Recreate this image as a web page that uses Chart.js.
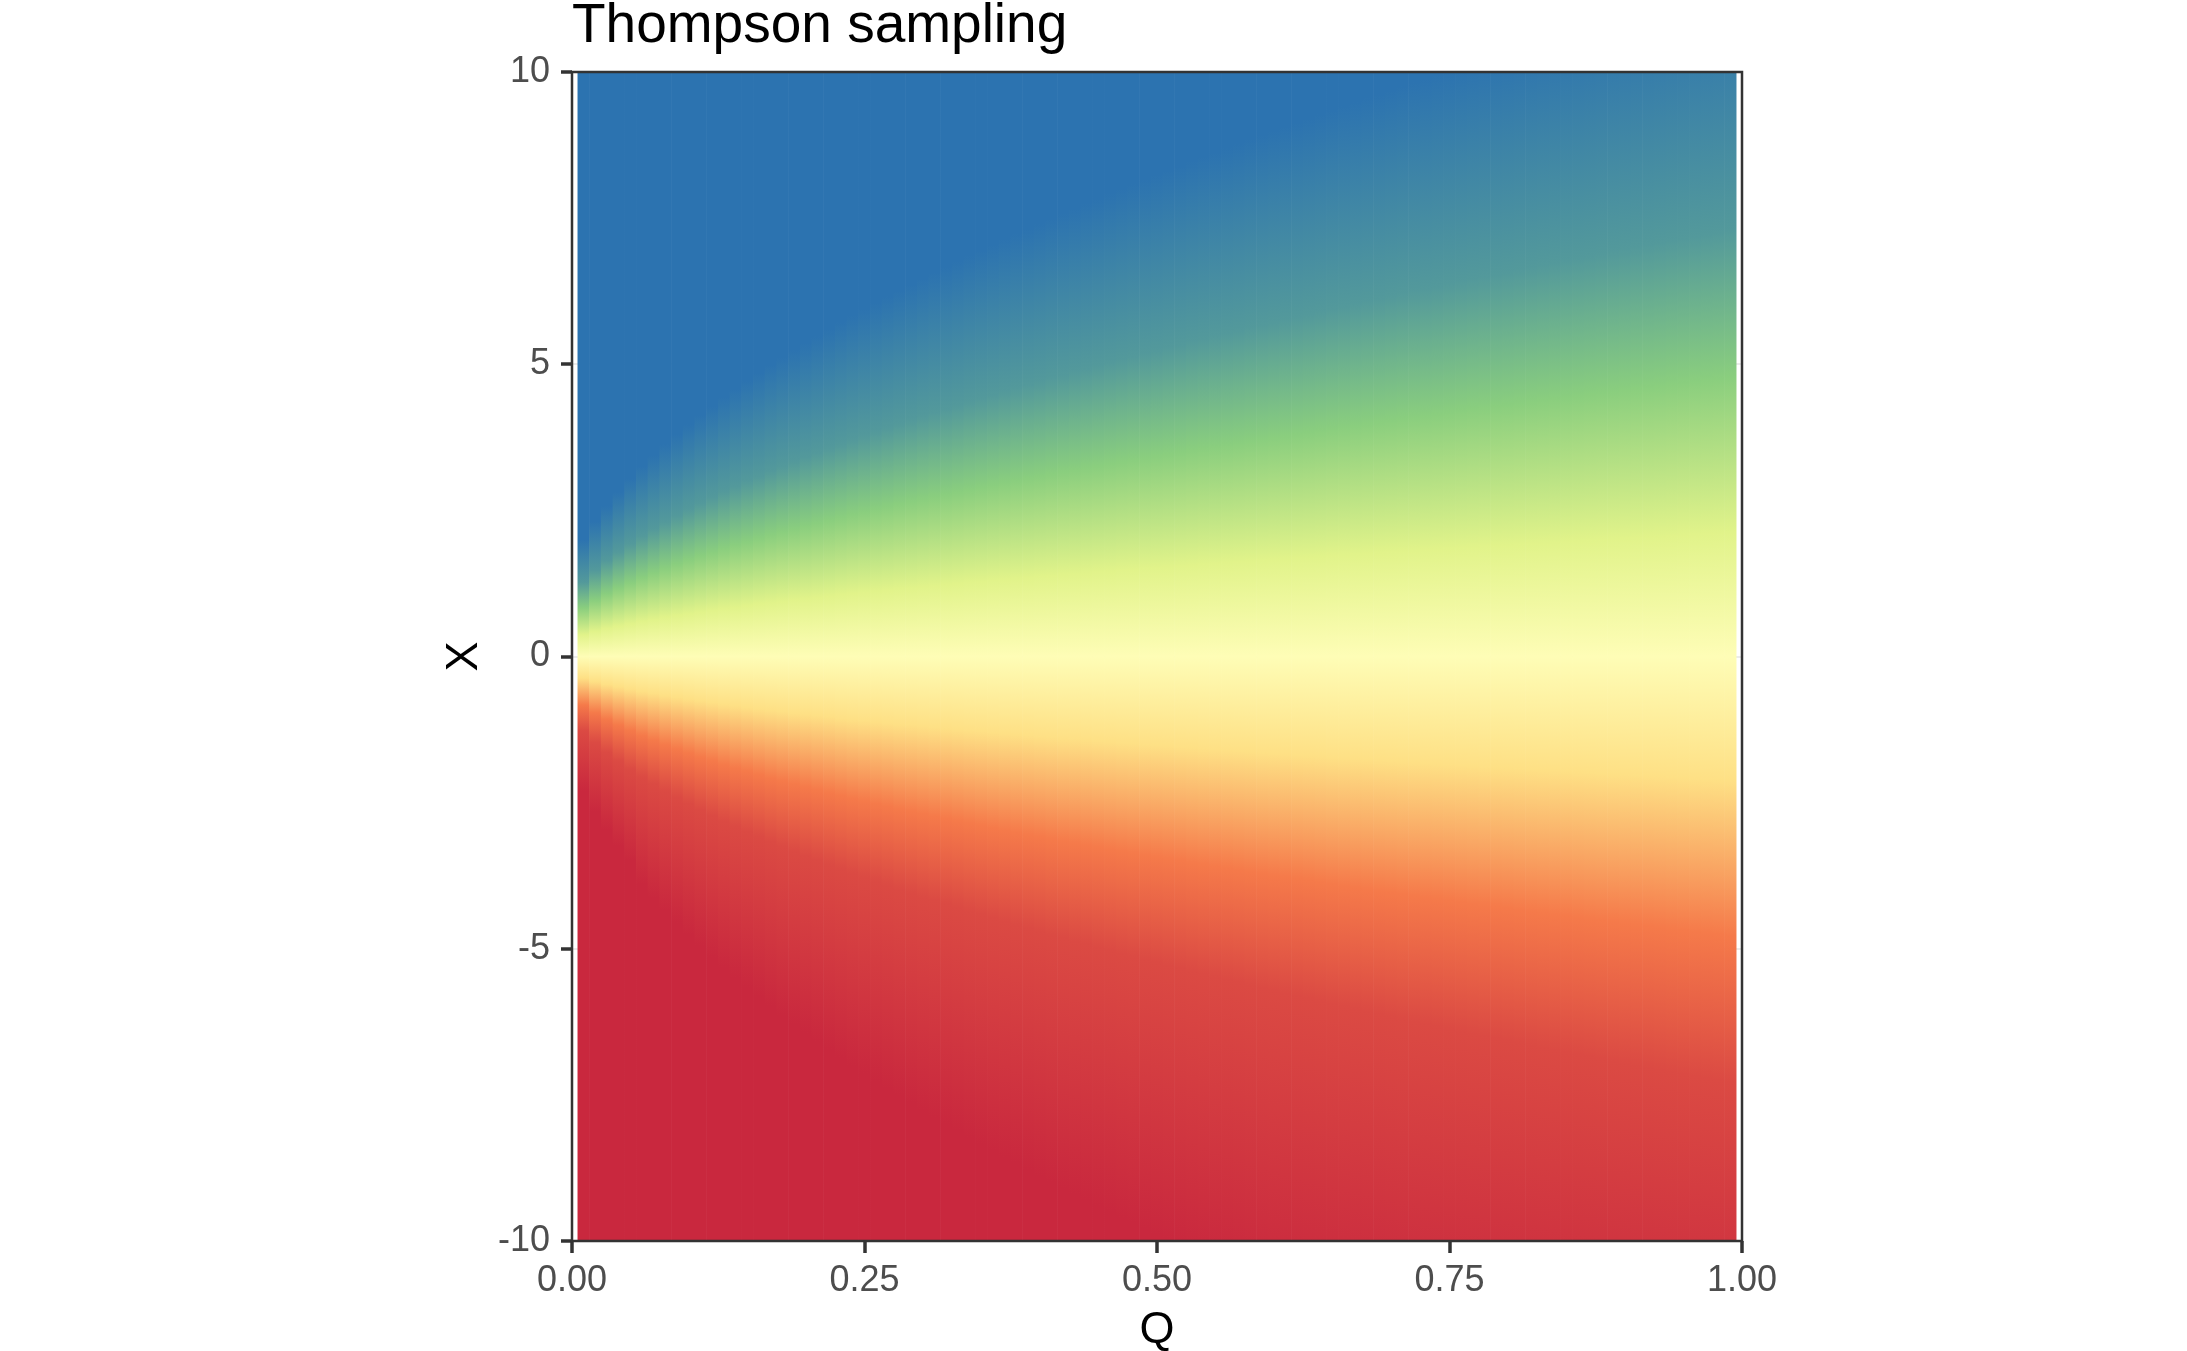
<!DOCTYPE html>
<html>
<head>
<meta charset="utf-8">
<title>Thompson sampling</title>
<script src="https://cdn.jsdelivr.net/npm/chart.js@4.4.1/dist/chart.umd.min.js"></script>
<style>
  html, body { margin: 0; padding: 0; background: #fff; }
  #wrap { width: 2187px; height: 1351px; }
</style>
</head>
<body>
<div id="wrap"><canvas id="myChart" width="2187" height="1351"></canvas></div>
<script>
// raster columns (Q at cell centre, cells are 0.01 wide)
const qCols = [
  0.01, 0.02, 0.03, 0.04, 0.05, 0.06, 0.07, 0.08, 0.09, 0.10,
  0.11, 0.12, 0.13, 0.14, 0.15, 0.16, 0.17, 0.18, 0.19, 0.20,
  0.21, 0.22, 0.23, 0.24, 0.25, 0.26, 0.27, 0.28, 0.29, 0.30,
  0.31, 0.32, 0.33, 0.34, 0.35, 0.36, 0.37, 0.38, 0.39, 0.40,
  0.41, 0.42, 0.43, 0.44, 0.45, 0.46, 0.47, 0.48, 0.49, 0.50,
  0.51, 0.52, 0.53, 0.54, 0.55, 0.56, 0.57, 0.58, 0.59, 0.60,
  0.61, 0.62, 0.63, 0.64, 0.65, 0.66, 0.67, 0.68, 0.69, 0.70,
  0.71, 0.72, 0.73, 0.74, 0.75, 0.76, 0.77, 0.78, 0.79, 0.80,
  0.81, 0.82, 0.83, 0.84, 0.85, 0.86, 0.87, 0.88, 0.89, 0.90,
  0.91, 0.92, 0.93, 0.94, 0.95, 0.96, 0.97, 0.98, 0.99
];

// distance in X from the pale centre line (X = 0) to each colour band,
// read off the picture per column
// where the colour becomes full blue (above) and full red (below)
const bandFullUp = [
  2.00, 2.31, 2.57, 2.81, 3.04, 3.25, 3.44, 3.63, 3.80, 3.97,
  4.13, 4.28, 4.43, 4.58, 4.72, 4.85, 4.99, 5.11, 5.24, 5.36,
  5.48, 5.60, 5.72, 5.83, 5.94, 6.05, 6.16, 6.26, 6.36, 6.47,
  6.57, 6.66, 6.76, 6.86, 6.95, 7.04, 7.14, 7.23, 7.32, 7.40,
  7.49, 7.58, 7.66, 7.75, 7.83, 7.92, 8.00, 8.08, 8.16, 8.24,
  8.32, 8.39, 8.47, 8.55, 8.62, 8.70, 8.77, 8.85, 8.92, 8.99,
  9.07, 9.14, 9.21, 9.28, 9.35, 9.42, 9.49, 9.56, 9.62, 9.69,
  9.76, 9.83, 9.89, 9.96, 10.02, 10.09, 10.15, 10.21, 10.28, 10.34,
  10.40, 10.47, 10.53, 10.59, 10.65, 10.71, 10.77, 10.83, 10.89, 10.95,
  11.01, 11.07, 11.13, 11.19, 11.25, 11.31, 11.36, 11.42, 11.48
];
const bandFullDown = [
  2.30, 2.65, 2.96, 3.24, 3.49, 3.89, 4.13, 4.35, 4.56, 4.76,
  4.95, 5.14, 5.32, 5.49, 5.66, 5.82, 5.98, 6.14, 6.29, 6.44,
  6.58, 6.72, 6.86, 7.00, 7.13, 7.26, 7.39, 7.51, 7.64, 7.76,
  7.88, 8.00, 8.11, 8.23, 8.34, 8.45, 8.56, 8.67, 8.78, 8.89,
  8.99, 9.10, 9.20, 9.30, 9.40, 9.50, 9.60, 9.69, 9.79, 9.89,
  9.98, 10.07, 10.17, 10.26, 10.35, 10.44, 10.53, 10.62, 10.71, 10.79,
  10.85, 10.90, 10.95, 10.99, 11.04, 11.09, 11.14, 11.18, 11.22, 11.27,
  11.31, 11.35, 11.39, 11.42, 11.46, 11.50, 11.53, 11.57, 11.60, 11.63,
  11.66, 11.70, 11.73, 11.75, 11.79, 11.81, 11.84, 11.86, 11.89, 11.91,
  11.94, 11.96, 11.98, 12.00, 12.02, 12.04, 12.06, 12.08, 12.09
];
// teal / rust, green / orange, lime / yellow bands (same distance above and below)
const bandTeal = [
  1.27, 1.47, 1.64, 1.79, 1.93, 2.06, 2.18, 2.30, 2.41, 2.52,
  2.62, 2.72, 2.82, 2.91, 3.00, 3.08, 3.17, 3.25, 3.33, 3.41,
  3.48, 3.56, 3.63, 3.70, 3.77, 3.84, 3.91, 3.98, 4.04, 4.11,
  4.17, 4.23, 4.29, 4.36, 4.41, 4.47, 4.53, 4.59, 4.65, 4.70,
  4.76, 4.81, 4.87, 4.92, 4.98, 5.03, 5.08, 5.13, 5.18, 5.23,
  5.28, 5.33, 5.38, 5.43, 5.48, 5.53, 5.57, 5.62, 5.67, 5.71,
  5.76, 5.80, 5.85, 5.89, 5.94, 5.98, 6.03, 6.07, 6.11, 6.16,
  6.20, 6.24, 6.28, 6.32, 6.37, 6.41, 6.45, 6.49, 6.53, 6.57,
  6.61, 6.65, 6.69, 6.73, 6.77, 6.81, 6.84, 6.88, 6.92, 6.96,
  7.00, 7.03, 7.07, 7.11, 7.14, 7.18, 7.22, 7.25, 7.29
];
const bandGreen = [
  0.83, 0.96, 1.07, 1.17, 1.26, 1.35, 1.43, 1.51, 1.58, 1.65,
  1.72, 1.78, 1.85, 1.91, 1.96, 2.02, 2.08, 2.13, 2.18, 2.23,
  2.28, 2.33, 2.38, 2.43, 2.47, 2.52, 2.56, 2.61, 2.65, 2.69,
  2.73, 2.77, 2.81, 2.85, 2.89, 2.93, 2.97, 3.01, 3.05, 3.08,
  3.12, 3.16, 3.19, 3.23, 3.26, 3.30, 3.33, 3.36, 3.40, 3.43,
  3.46, 3.49, 3.53, 3.56, 3.59, 3.62, 3.65, 3.68, 3.71, 3.74,
  3.77, 3.80, 3.83, 3.86, 3.89, 3.92, 3.95, 3.98, 4.01, 4.03,
  4.06, 4.09, 4.12, 4.14, 4.17, 4.20, 4.23, 4.25, 4.28, 4.30,
  4.33, 4.36, 4.38, 4.41, 4.43, 4.46, 4.49, 4.51, 4.53, 4.56,
  4.59, 4.61, 4.63, 4.66, 4.68, 4.71, 4.73, 4.75, 4.78
];
const bandLime = [
  0.37, 0.43, 0.48, 0.52, 0.56, 0.60, 0.63, 0.67, 0.70, 0.73,
  0.76, 0.79, 0.82, 0.84, 0.87, 0.90, 0.92, 0.94, 0.97, 0.99,
  1.01, 1.03, 1.06, 1.08, 1.10, 1.12, 1.14, 1.16, 1.17, 1.19,
  1.21, 1.23, 1.25, 1.27, 1.28, 1.30, 1.32, 1.33, 1.35, 1.37,
  1.38, 1.40, 1.41, 1.43, 1.45, 1.46, 1.48, 1.49, 1.51, 1.52,
  1.53, 1.55, 1.56, 1.58, 1.59, 1.61, 1.62, 1.63, 1.65, 1.66,
  1.67, 1.69, 1.70, 1.71, 1.73, 1.74, 1.75, 1.76, 1.78, 1.79,
  1.80, 1.81, 1.83, 1.84, 1.85, 1.86, 1.87, 1.89, 1.90, 1.91,
  1.92, 1.93, 1.94, 1.95, 1.97, 1.98, 1.99, 2.00, 2.01, 2.02,
  2.03, 2.04, 2.05, 2.06, 2.08, 2.09, 2.10, 2.11, 2.12
];
const centreX = 0;

const xRange = [0, 1];
const yRange = [-10, 10];
const xTicks = [0, 0.25, 0.5, 0.75, 1];
const xTickLabels = ['0.00', '0.25', '0.50', '0.75', '1.00'];
const yTicks = [-10, -5, 0, 5, 10];
const yTickLabels = ['-10', '-5', '0', '5', '10'];

// colour scale, red (low) -> pale yellow -> blue (high)
const palette = ['#c9283e', '#f57a4a', '#fee085', '#fefdb6', '#e1f38a', '#8ace7e', '#2c73b0'];

function hexRgb(h) {
  return [parseInt(h.slice(1, 3), 16), parseInt(h.slice(3, 5), 16), parseInt(h.slice(5, 7), 16)];
}
const paletteRgb = palette.map(hexRgb);

function colourAt(level) {
  const n = paletteRgb.length - 1;
  const p = Math.min(Math.max(level, 0), 1) * n;
  const i = Math.min(Math.floor(p), n - 1);
  const f = p - i;
  const a = paletteRgb[i], b = paletteRgb[i + 1];
  const c = a.map((v, k) => Math.round(v + (b[k] - v) * f));
  return 'rgb(' + c.join(',') + ')';
}

function columnGradient(chart, i) {
  const y = chart.scales.y;
  const stops = [
    [centreX + bandFullUp[i], 1.0],
    [centreX + bandTeal[i], 0.93],
    [centreX + bandGreen[i], 5 / 6],
    [centreX + bandLime[i], 4 / 6],
    [centreX, 0.5],
    [centreX - bandLime[i], 2 / 6],
    [centreX - bandGreen[i], 1 / 6],
    [centreX - bandTeal[i], 0.07],
    [centreX - bandFullDown[i], 0.0]
  ];
  const p0 = y.getPixelForValue(stops[0][0]);
  const p1 = y.getPixelForValue(stops[stops.length - 1][0]);
  const g = chart.ctx.createLinearGradient(0, p0, 0, p1);
  stops.forEach(([v, lvl]) => {
    const off = (y.getPixelForValue(v) - p0) / (p1 - p0);
    g.addColorStop(Math.min(Math.max(off, 0), 1), colourAt(lvl));
  });
  return g;
}

const panelBox = {
  id: 'panelBox',
  afterDatasetsDraw(chart) {
    const { ctx, chartArea: a } = chart;
    ctx.save();
    ctx.strokeStyle = '#333333';
    ctx.lineWidth = 2.5;
    ctx.strokeRect(a.left, a.top, a.right - a.left, a.bottom - a.top);
    ctx.restore();
  }
};

Chart.defaults.font.family = '"Liberation Sans", Arial, Helvetica, sans-serif';

const ctx = document.getElementById('myChart');
const myChart = new Chart(ctx, {
  type: 'bar',
  data: {
    datasets: [{
      data: qCols.map((q) => ({ x: q, y: [yRange[0], yRange[1]] })),
      backgroundColor: (c) => {
        if (c.type !== 'data' || !c.chart.chartArea) return colourAt(0.5);
        return columnGradient(c.chart, c.dataIndex);
      },
      borderWidth: 0,
      barPercentage: 1,
      categoryPercentage: 1
    }]
  },
  options: {
    responsive: false,
    animation: false,
    events: [],
    layout: { padding: { left: 0, right: 445, top: 0, bottom: 0 } },
    plugins: {
      legend: { display: false },
      tooltip: { enabled: false },
      title: {
        display: true,
        text: 'Thompson sampling',
        align: 'start',
        fullSize: false,
        color: '#000000',
        font: { size: 55, weight: 'normal', lineHeight: 0.8 },
        padding: { top: 5, bottom: 23 }
      }
    },
    scales: {
      x: {
        type: 'linear',
        min: xRange[0],
        max: xRange[1],
        offset: false,
        afterBuildTicks: (s) => { s.ticks = xTicks.map((v) => ({ value: v })); },
        afterFit: (s) => { s.height = 110; },
        ticks: {
          callback: (v, i) => xTickLabels[i],
          color: '#4d4d4d',
          font: { size: 36 },
          padding: 6,
          maxRotation: 0
        },
        grid: {
          offset: false,
          color: '#ebebeb',
          lineWidth: 2,
          tickColor: '#333333',
          tickWidth: 3.5,
          tickLength: 12
        },
        border: { display: false },
        title: {
          display: true,
          text: 'Q',
          color: '#000000',
          font: { size: 45, lineHeight: 0.9 },
          padding: { top: 0, bottom: 0 }
        }
      },
      y: {
        type: 'linear',
        min: yRange[0],
        max: yRange[1],
        afterBuildTicks: (s) => { s.ticks = yTicks.map((v) => ({ value: v })); },
        afterFit: (s) => { s.width = 572; },
        ticks: {
          callback: (v, i) => yTickLabels[i],
          color: '#4d4d4d',
          font: { size: 36 },
          padding: 11
        },
        grid: {
          color: '#ebebeb',
          lineWidth: 2,
          tickColor: '#333333',
          tickWidth: 3.5,
          tickLength: 11
        },
        border: { display: false },
        title: {
          display: true,
          text: 'X',
          color: '#000000',
          font: { size: 45 },
          padding: { top: 438, bottom: 0 }
        }
      }
    }
  },
  plugins: [panelBox]
});
</script>
</body>
</html>
